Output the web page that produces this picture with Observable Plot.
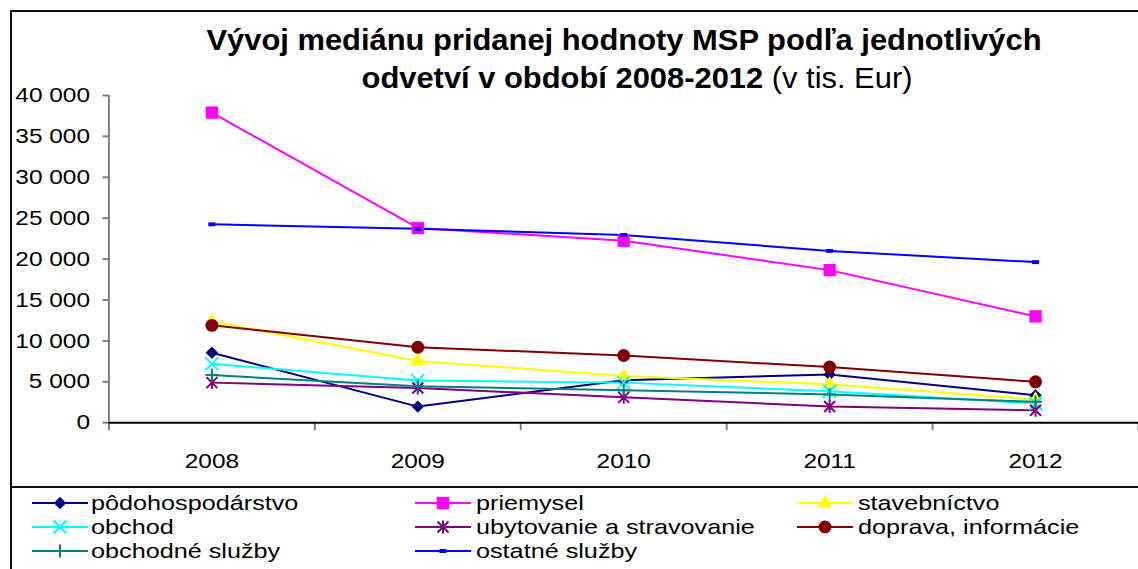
<!DOCTYPE html>
<html><head><meta charset="utf-8">
<script src="https://cdn.jsdelivr.net/npm/d3@7"></script>
<script src="https://cdn.jsdelivr.net/npm/@observablehq/plot@0.6"></script>
<style>
html,body{margin:0;padding:0;background:#fff;overflow:hidden;}
#root{position:relative;width:1138px;height:569px;overflow:hidden;font-family:"Liberation Sans",Arial,sans-serif;color:#000;background:#fff;}
#frame{position:absolute;left:10px;top:10px;width:1200px;height:600px;border-left:2px solid #111;border-top:2px solid #111;box-sizing:border-box;}
#sep{position:absolute;left:10px;top:486px;width:1200px;border-top:2px solid #111;}
.t{position:absolute;width:1200px;text-align:center;white-space:nowrap;font-size:29px;line-height:29px;transform:scaleX(1.065);transform-origin:50% 50%;}
#chart{position:absolute;left:0;top:85px;}
.ls{position:absolute;}
.lt{position:absolute;font-size:21px;line-height:21px;white-space:nowrap;transform:scaleX(1.2);transform-origin:0 0;}
</style></head>
<body>
<div id="root">
  <div id="frame"></div>
  <div class="t" style="left:23.5px;top:25.5px;font-weight:bold;">Vývoj mediánu pridanej hodnoty MSP podľa jednotlivých</div>
  <div class="t" style="left:37px;top:63.5px;"><b>odvetví v období 2008-2012</b> (v tis. Eur)</div>
  <div id="chart"></div>
  <div id="sep"></div>
  <div id="legend"></div>
</div>
<script>
// ---- data ----
const years = [2008, 2009, 2010, 2011, 2012];
const seriesNames = ["pôdohospodárstvo", "priemysel", "stavebníctvo", "obchod", "ubytovanie a stravovanie", "doprava, informácie", "obchodné služby", "ostatné služby"];
const podohospodarstvo = [8550, 1970, 5200, 5900, 3350];
const priemysel = [37900, 23800, 22250, 18650, 13000];
const stavebnictvo = [12400, 7550, 5700, 4700, 2850];
const obchod = [7200, 5150, 4900, 3850, 2350];
const ubytovanie = [4900, 4250, 3100, 1980, 1520];
const doprava = [11900, 9230, 8220, 6800, 5000];
const obchodneSluzby = [5820, 4450, 3980, 3450, 2550];
const ostatneSluzby = [24250, 23700, 22950, 21000, 19630];
const yTicks = [0, 5000, 10000, 15000, 20000, 25000, 30000, 35000, 40000];
const categoryBounds = [2007.5, 2008.5, 2009.5, 2010.5, 2011.5, 2012.5];

// ---- marker symbols ----
const rr = size => Math.sqrt(size / Math.PI);
const symX = {draw(c, s){const a = rr(s); c.moveTo(-a,-a); c.lineTo(a,a); c.moveTo(-a,a); c.lineTo(a,-a);}};
const symStar = {draw(c, s){const a = rr(s), b = a*0.85; c.moveTo(-b,-b); c.lineTo(b,b); c.moveTo(-b,b); c.lineTo(b,-b); c.moveTo(0,-a); c.lineTo(0,a);}};
const symPlus = {draw(c, s){const a = rr(s); c.moveTo(0,-a); c.lineTo(0,a); c.moveTo(-a,0); c.lineTo(a,0);}};
const symDash = {draw(c, s){const a = rr(s); c.rect(-a, -a*0.55, 2*a, a*1.1);}};

const styles = [
  {color:"#000080", symbol:d3.symbolDiamond2, r:5.6, filled:true},
  {color:"#FF00FF", symbol:d3.symbolSquare, r:7, filled:true},
  {color:"#FFFF00", symbol:d3.symbolTriangle, r:5.3, filled:true},
  {color:"#00FFFF", symbol:symX, r:6.5, filled:false},
  {color:"#800080", symbol:symStar, r:6.5, filled:false},
  {color:"#800000", symbol:d3.symbolCircle, r:6.5, filled:true},
  {color:"#008080", symbol:symPlus, r:6.5, filled:false},
  {color:"#0000FF", symbol:symDash, r:3.6, filled:true}
];
const valuesList = [podohospodarstvo, priemysel, stavebnictvo, obchod, ubytovanie, doprava, obchodneSluzby, ostatneSluzby];
const series = seriesNames.map((name, k) => ({name, values: valuesList[k], ...styles[k]}));

const fmt = d => d3.format(",")(d).replace(/,/g, "\u00a0");

const marks = [
  Plot.ruleX([categoryBounds[0]], {stroke:"#808080", strokeWidth:2}),
  Plot.axisY({ticks: yTicks, tickSize: 6, tickPadding: 13, tickFormat: fmt, stroke:"#808080", strokeWidth:2, fill:"#000", label:null}),
  Plot.axisX({ticks: categoryBounds, tickSize: 8, tickFormat: () => "", stroke:"#808080", strokeWidth:2, label:null}),
  Plot.axisX({ticks: years, tickSize: 0, tickPadding: 31, tickFormat: d => String(d), fill:"#000", label:null}),
  Plot.ruleY([0], {stroke:"#000", strokeWidth:2})
];
for (const s of series) {
  const data = years.map((yr, i) => ({year: yr, value: s.values[i]}));
  marks.push(Plot.line(data, {x:"year", y:"value", stroke:s.color, strokeWidth:2}));
}
for (const s of series) {
  const data = years.map((yr, i) => ({year: yr, value: s.values[i]}));
  marks.push(Plot.dot(data, {x:"year", y:"value", symbol:s.symbol, r:s.r,
    fill: s.filled ? s.color : "none", stroke: s.filled ? "none" : s.color, strokeWidth: 2}));
}

const chart = Plot.plot({
  width: 1144, height: 402,
  marginLeft: 109, marginRight: 0, marginTop: 10, marginBottom: 63,
  x: {type:"linear", domain:[categoryBounds[0], categoryBounds[categoryBounds.length-1]], axis:null},
  y: {domain:[0, 40000], axis:null},
  style: {fontFamily:'"Liberation Sans", Arial, sans-serif', fontSize:"21px", color:"#000", background:"none", overflow:"visible"},
  marks
});
document.getElementById("chart").appendChild(chart);
chart.querySelectorAll("text").forEach(t => {
  const L = t.getComputedTextLength();
  if (L > 0) { t.setAttribute("textLength", (L*1.17).toFixed(1)); t.setAttribute("lengthAdjust", "spacingAndGlyphs"); }
});

// ---- legend ----
const legendCols = [{sx:32, tx:91}, {sx:415, tx:476}, {sx:797, tx:858}];
const legendRows = [503, 527, 551];
const legend = document.getElementById("legend");
series.forEach((s, k) => {
  const col = legendCols[k % 3], row = legendRows[Math.floor(k / 3)];
  const sw = 56;
  const svg = d3.create("svg").attr("class","ls").attr("width", sw).attr("height", 24)
    .style("left", col.sx + "px").style("top", (row - 12) + "px");
  svg.append("line").attr("x1", 0).attr("x2", sw).attr("y1", 12).attr("y2", 12).attr("stroke", s.color).attr("stroke-width", 2);
  svg.append("path").attr("transform", `translate(${sw/2},12)`)
    .attr("d", d3.symbol(s.symbol, Math.PI * s.r * s.r)())
    .attr("fill", s.filled ? s.color : "none").attr("stroke", s.filled ? "none" : s.color).attr("stroke-width", 2);
  legend.appendChild(svg.node());
  const t = document.createElement("div");
  t.className = "lt"; t.textContent = s.name;
  t.style.left = col.tx + "px"; t.style.top = (row + 7 - 17.8) + "px";
  legend.appendChild(t);
});
</script>
</body></html>
